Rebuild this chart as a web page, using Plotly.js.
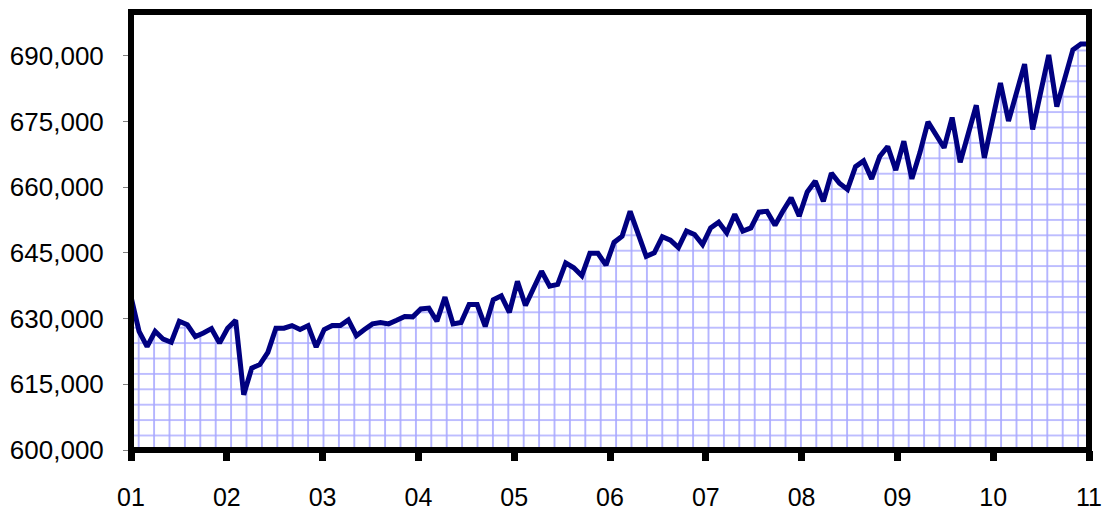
<!DOCTYPE html>
<html>
<head>
<meta charset="utf-8">
<script src="https://cdn.plot.ly/plotly-3.0.1.min.js"></script>
<style>
  html, body { margin: 0; padding: 0; background: #ffffff; }
  #chart { width: 1108px; height: 513px; }
</style>
</head>
<body>
<div id="chart"></div>
<script>
// Monthly values, 2001 through 2010
const values = [
  635000, 627100, 623600, 627100, 625300, 624600, 629400, 628600, 625900, 626700, 627700, 624400,
  627800, 629600, 612600, 618700, 619500, 622300, 627800, 627800, 628400, 627500, 628400, 623500,
  627500, 628400, 628400, 629700, 626100, 627500, 628800, 629100, 628800, 629600, 630500, 630400,
  632200, 632400, 629400, 634900, 628800, 629100, 633200, 633200, 628200, 634300, 635200, 631400,
  638500, 633000, 636600, 640800, 637400, 637800, 642700, 641600, 639800, 644900, 644900, 642200,
  647400, 648800, 654500, 649400, 644200, 645000, 648700, 647900, 646200, 650000, 649200, 646900,
  650700, 652000, 649600, 653800, 650000, 650700, 654300, 654500, 651300, 654600, 657600, 653400,
  658900, 661400, 656800, 663200, 660900, 659500, 664700, 666000, 661900, 667000, 669300, 663900,
  670500, 661900, 667900, 674900, 672000, 669000, 675900, 665700, 672200, 678700, 666700, 675300,
  683800, 675100, 681600, 688100, 673200, 681700, 690200, 678400, 684900, 691400, 692700, 692700
];
// Year tick labels along the x axis
const yearLabels = ["01", "02", "03", "04", "05", "06", "07", "08", "09", "10", "11"];
// Y axis
const yMin = 600000;
const yMax = 700000;
const yTicks = [600000, 615000, 630000, 645000, 660000, 675000, 690000];

const n = values.length;
const idx = values.map((_, i) => i);
const xs = [0].concat(idx, [n - 1]);
const ys = [yMin].concat(values, [yMin]);
const tickPos = yearLabels.map((_, k) => k * (n - 1) / (yearLabels.length - 1));

const trace = {
  type: 'scatter',
  mode: 'lines',
  x: xs,
  y: ys,
  fill: 'toself',
  fillcolor: '#ffffff',
  fillpattern: {
    shape: '+',
    fgcolor: '#a8a8ff',
    bgcolor: '#ffffff',
    size: 15.4,
    solidity: 0.2
  },
  line: { color: '#000080', width: 5, shape: 'linear' },
  hoverinfo: 'skip',
  showlegend: false
};

const layout = {
  width: 1108,
  height: 513,
  margin: { l: 131, r: 19, t: 12, b: 63, pad: 0 },
  paper_bgcolor: '#ffffff',
  plot_bgcolor: '#ffffff',
  showlegend: false,
  xaxis: {
    range: [0, n - 1],
    tickmode: 'array',
    tickvals: tickPos,
    ticktext: yearLabels,
    ticks: 'outside',
    ticklen: 10,
    tickwidth: 7,
    tickcolor: '#000000',
    ticklabelstandoff: 15,
    showgrid: false,
    zeroline: false,
    showline: false,
    tickfont: { family: 'Liberation Sans, Arial, sans-serif', size: 25, color: '#000000' },
    fixedrange: true
  },
  yaxis: {
    range: [yMin, yMax],
    tickmode: 'array',
    tickvals: yTicks,
    tickformat: ',d',
    ticks: 'outside',
    ticklen: 7,
    tickwidth: 1,
    tickcolor: '#808080',
    ticklabelstandoff: 14,
    showgrid: false,
    zeroline: false,
    showline: false,
    tickfont: { family: 'Liberation Sans, Arial, sans-serif', size: 26, color: '#000000' },
    fixedrange: true
  },
  shapes: [
    {
      type: 'rect', xref: 'paper', yref: 'paper',
      x0: 0, x1: 1, y0: 0, y1: 1,
      line: { color: '#000000', width: 6 },
      fillcolor: 'rgba(0,0,0,0)',
      layer: 'above'
    }
  ]
};

Plotly.newPlot('chart', [trace], layout, { displayModeBar: false, staticPlot: true });
</script>
</body>
</html>
